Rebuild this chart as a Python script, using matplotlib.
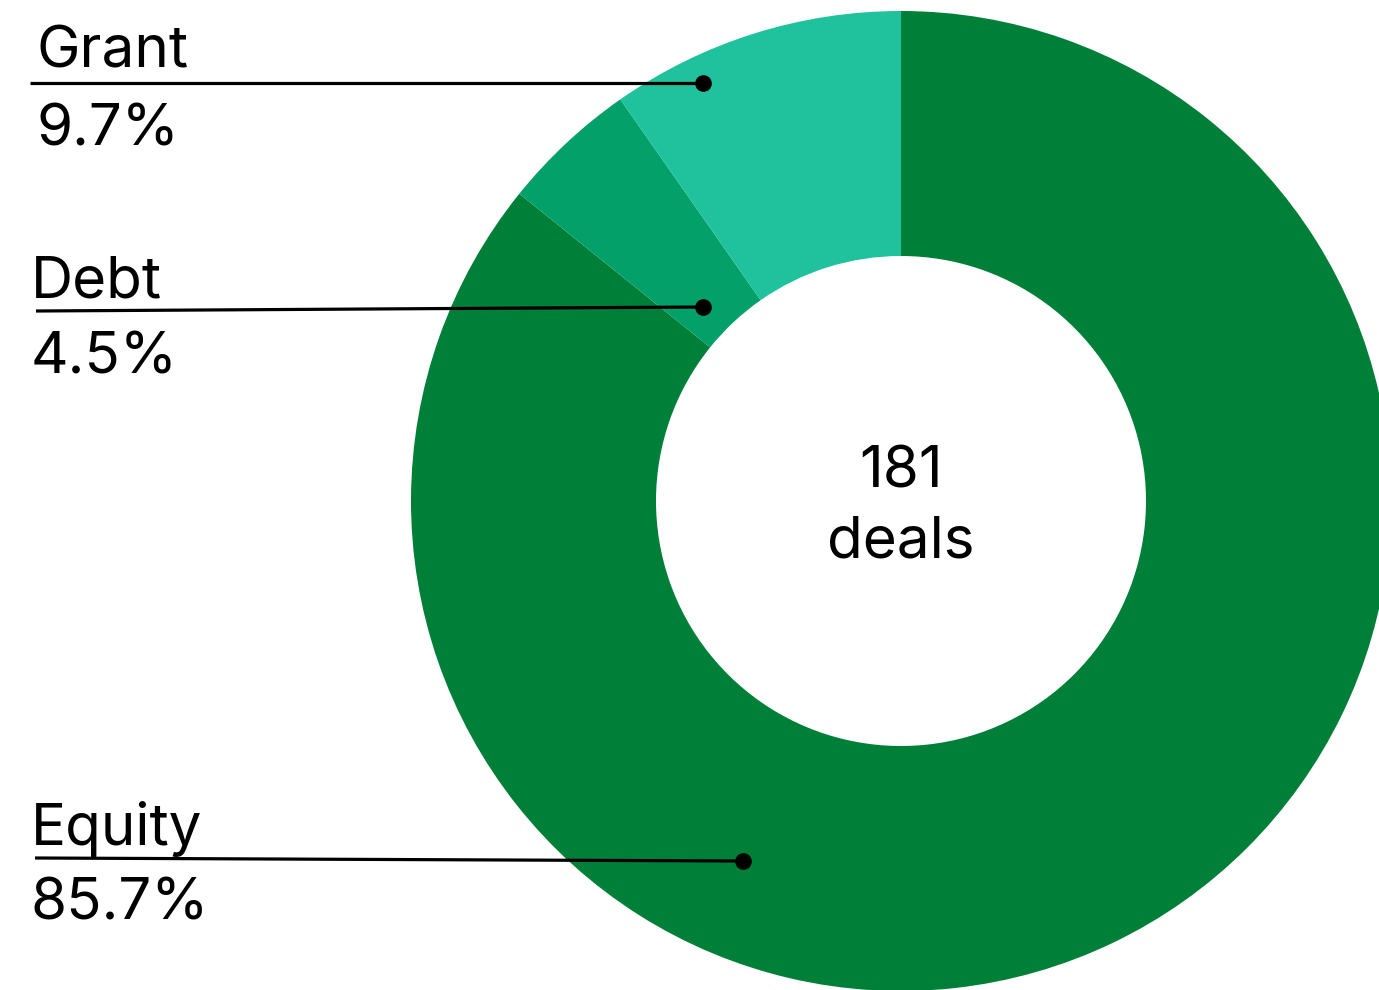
import matplotlib.pyplot as plt

labels = ["Equity", "Debt", "Grant"]
shares = [85.7, 4.5, 9.7]
colors = ["#007F38", "#03A06A", "#1FC29C"]
total_deals = 181

# layout in pixel space (y measured from the top of the image)
W, H = 1379, 990
center = (901, 501)
r_outer, r_inner = 490, 245
# label block: (text left x, name baseline y, pct baseline y, line start, dot position)
label_layout = {
    "Grant": dict(x=36, name_y=68, pct_y=145, line_from=(30, 83), dot=(703, 83)),
    "Debt": dict(x=31, name_y=297, pct_y=373, line_from=(36, 311), dot=(703, 307)),
    "Equity": dict(x=31, name_y=845, pct_y=920, line_from=(35, 858), dot=(743, 861)),
}

plt.rcParams["font.family"] = ["Inter", "DejaVu Sans"]

fig = plt.figure(figsize=(W / 100, H / 100), dpi=100)
ax = fig.add_axes([0, 0, 1, 1])

ax.pie(
    shares,
    colors=colors,
    startangle=90,
    counterclock=False,
    radius=r_outer,
    center=(center[0], H - center[1]),
    wedgeprops=dict(width=r_outer - r_inner, linewidth=0),
)
ax.set_xlim(0, W)
ax.set_ylim(0, H)
ax.set_aspect("auto")
ax.axis("off")

fs = 42
for name, pct in zip(labels, shares):
    lay = label_layout[name]
    (x0, y0), (x1, y1) = lay["line_from"], lay["dot"]
    ax.plot([x0, x1], [H - y0, H - y1], color="black", lw=2.3, solid_capstyle="butt")
    ax.plot(x1, H - y1, "o", color="black", ms=11)
    ax.text(lay["x"], H - lay["name_y"], name, fontsize=fs, ha="left", va="baseline")
    ax.text(lay["x"], H - lay["pct_y"], f"{pct}%", fontsize=fs, ha="left", va="baseline")

ax.text(center[0], H - 472, f"{total_deals}", fontsize=fs, ha="center", va="center")
ax.text(center[0], H - 542, "deals", fontsize=fs, ha="center", va="center")

fig.savefig("out.png", dpi=100, facecolor="white")
